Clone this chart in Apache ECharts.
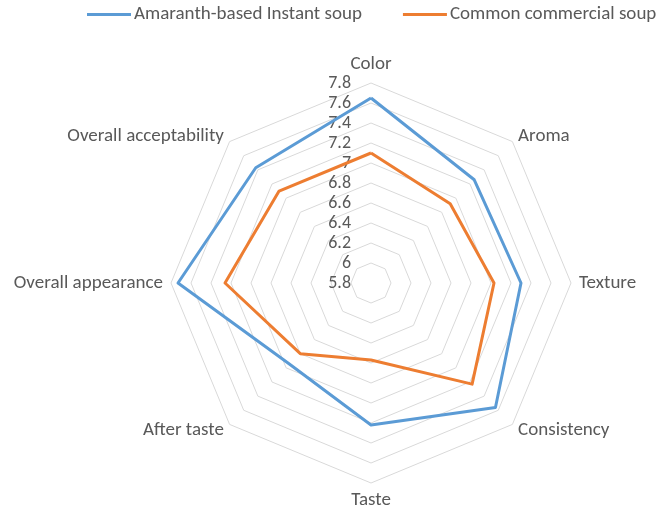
<!DOCTYPE html>
<html>
<head>
<meta charset="utf-8">
<script src="https://cdn.jsdelivr.net/npm/echarts@6/dist/echarts.min.js"></script>
<style>
  html, body { margin: 0; padding: 0; background: #fff; }
  #chart { width: 662px; height: 514px; }
</style>
</head>
<body>
<div id="chart"></div>
<script>
// 指标名称（顺时针）
const categories = ['Color', 'Aroma', 'Texture', 'Consistency', 'Taste', 'After taste', 'Overall appearance', 'Overall acceptability'];
const seriesNames = ['Amaranth-based Instant soup', 'Common commercial soup'];
const amaranthValues = [7.65, 7.26, 7.30, 7.56, 7.22, 6.95, 7.73, 7.43];
const commercialValues = [7.10, 6.92, 7.03, 7.23, 6.57, 6.80, 7.26, 7.10];
// 刻度范围
const axisMin = 5.8;
const axisMax = 7.8;
const axisStep = 0.2;

const chart = echarts.init(document.getElementById('chart'));

const textColor = '#595959';
const fontFamily = 'Carlito, Calibri, "Liberation Sans", "Noto Sans", sans-serif';

// radar 默认逆时针，这里把顺序反过来（第一个不动）
const order = categories.map((c, i) => (categories.length - i) % categories.length);
const pick = arr => order.map(i => arr[i]);

const indicator = order.map((idx, i) => {
    const item = { name: categories[idx], min: axisMin, max: axisMax, interval: axisStep };
    // 只在第一个轴显示刻度
    if (i === 0) {
        item.axisLabel = { show: true };
    }
    return item;
});

const options = {
    animation: false,
    textStyle: { fontFamily: fontFamily },
    legend: {
        top: 5,
        left: 87,
        width: 700,
        padding: 0,
        itemWidth: 44,
        itemHeight: 3,
        itemGap: 41,
        icon: 'rect',
        textStyle: { color: textColor, fontSize: 19, fontFamily: fontFamily, padding: [0, 0, 0, -2] },
        data: seriesNames
    },
    radar: {
        center: [371, 283],
        radius: 200,
        startAngle: 90,
        shape: 'polygon',
        splitNumber: 10,
        nameGap: 8,
        axisName: { color: textColor, fontSize: 19, fontFamily: fontFamily },
        axisLine: { show: false },
        axisTick: { show: false },
        axisLabel: { show: false, color: textColor, fontSize: 18, fontFamily: fontFamily, margin: 20, showMinLabel: true, showMaxLabel: true },
        splitLine: { lineStyle: { color: '#d9d9d9', width: 1 } },
        splitArea: { show: false },
        indicator: indicator
    },
    series: [
        {
            type: 'radar',
            symbol: 'none',
            data: [
                {
                    name: seriesNames[0],
                    value: pick(amaranthValues),
                    lineStyle: { color: '#5b9bd5', width: 3 },
                    itemStyle: { color: '#5b9bd5' }
                },
                {
                    name: seriesNames[1],
                    value: pick(commercialValues),
                    lineStyle: { color: '#ed7d31', width: 3 },
                    itemStyle: { color: '#ed7d31' }
                }
            ]
        }
    ]
};

chart.setOption(options);
</script>
</body>
</html>
